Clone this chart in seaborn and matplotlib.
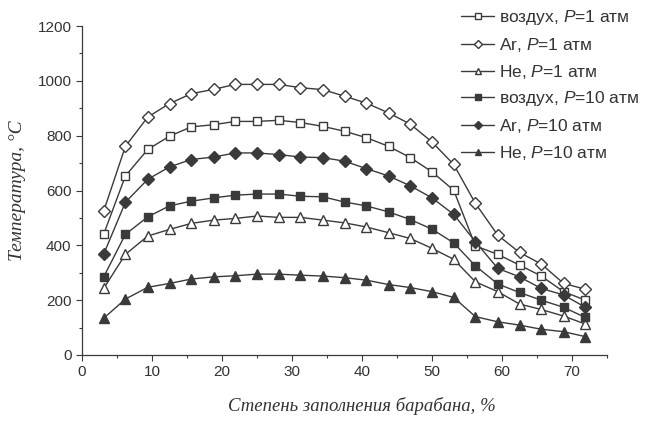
import matplotlib
matplotlib.use("Agg")
import matplotlib.pyplot as plt
import seaborn as sns
import pandas as pd
from matplotlib.ticker import MultipleLocator

# ---- data ----
fill_pct = [3.1, 6.2, 9.4, 12.5, 15.6, 18.8, 21.9, 25.0, 28.1, 31.2, 34.4, 37.5,
            40.6, 43.8, 46.9, 50.0, 53.1, 56.2, 59.4, 62.5, 65.6, 68.8, 71.9]

air_1 = [441, 653, 750, 798, 832, 840, 852, 852, 856, 848, 834, 816,
         793, 761, 720, 668, 601, 398, 367, 328, 288, 231, 200]
ar_1 = [525, 761, 868, 917, 953, 969, 987, 987, 987, 975, 968, 944,
        919, 883, 842, 777, 695, 553, 437, 374, 332, 261, 240]
he_1 = [243, 367, 434, 458, 480, 492, 498, 507, 502, 502, 492, 482,
        467, 446, 425, 389, 349, 267, 231, 186, 166, 142, 113]
air_10 = [285, 440, 504, 544, 561, 573, 583, 587, 587, 579, 577, 558,
          544, 522, 494, 459, 409, 325, 259, 228, 200, 174, 137]
ar_10 = [368, 557, 641, 686, 713, 722, 737, 737, 731, 722, 720, 707,
         680, 653, 617, 573, 513, 413, 316, 285, 243, 219, 174]
he_10 = [134, 204, 247, 261, 277, 285, 289, 295, 295, 291, 288, 282,
         273, 257, 246, 231, 210, 140, 121, 109, 94, 85, 67]

labels = ["воздух, $P$=1 атм", "Ar, $P$=1 атм", "He, $P$=1 атм",
          "воздух, $P$=10 атм", "Ar, $P$=10 атм", "He, $P$=10 атм"]
x_ticks = [0, 10, 20, 30, 40, 50, 60, 70]
y_ticks = [0, 200, 400, 600, 800, 1000, 1200]

# ---- style ----
sns.set_style("ticks")
plt.rcParams["font.family"] = ["Liberation Sans", "DejaVu Sans"]
plt.rcParams["mathtext.fontset"] = "custom"
plt.rcParams["mathtext.it"] = "Liberation Sans:italic"
plt.rcParams["mathtext.rm"] = "Liberation Sans"

INK = "#3a3a3a"
TXT = "#333333"

fig = plt.figure(figsize=(6.5, 4.21), dpi=100)
ax = fig.add_axes([82 / 650, 1 - 355 / 421, (607 - 82) / 650, (355 - 26) / 421])

series = [air_1, ar_1, he_1, air_10, ar_10, he_10]
markers = ["s", "D", "^", "s", "D", "^"]
faces = ["white", "white", "white", INK, INK, INK]
msizes = [6, 6.5, 6.5, 6, 6.5, 6.5]

for vals, lab, mk, fc, ms in zip(series, labels, markers, faces, msizes):
    df = pd.DataFrame({"x": fill_pct, "y": vals})
    sns.lineplot(data=df, x="x", y="y", ax=ax, color=INK, linewidth=1.0,
                 marker=mk, markersize=ms, markerfacecolor=fc,
                 markeredgecolor=INK, markeredgewidth=1.0, label=lab)

ax.set_xlim(0, 75)
ax.set_ylim(0, 1200)
ax.set_xticks(x_ticks)
ax.set_yticks(y_ticks)
ax.xaxis.set_minor_locator(MultipleLocator(5))
ax.yaxis.set_minor_locator(MultipleLocator(100))
ax.tick_params(axis="both", which="major", direction="out", length=4,
               width=0.8, colors=INK, labelsize=11, labelcolor=TXT)
ax.tick_params(axis="both", which="minor", direction="out", length=2.5,
               width=0.8, colors=INK)
for s in ["top", "right"]:
    ax.spines[s].set_visible(False)
for s in ["left", "bottom"]:
    ax.spines[s].set_color(INK)
    ax.spines[s].set_linewidth(0.9)

ax.set_xlabel("Степень заполнения барабана, %", fontsize=13.5, color=TXT,
              family=["Liberation Serif", "DejaVu Serif"], style="italic")
ax.xaxis.set_label_coords((362 - 82) / 525, -(406 - 355) / 329)
ax.xaxis.label.set_verticalalignment("center")
ax.set_ylabel("Температура, °C", fontsize=14, color=TXT,
              family=["Liberation Serif", "DejaVu Serif"], style="italic",
              labelpad=8)

leg = ax.legend(loc="upper right", bbox_to_anchor=(1.0, 1.005),
                bbox_transform=fig.transFigure, frameon=False, fontsize=12.5,
                handlelength=1.9, handletextpad=0.3, labelspacing=0.5,
                borderaxespad=0.2, markerscale=0.65)
for t in leg.get_texts():
    t.set_color(TXT)

fig.savefig("out.png", dpi=100, facecolor="white")
